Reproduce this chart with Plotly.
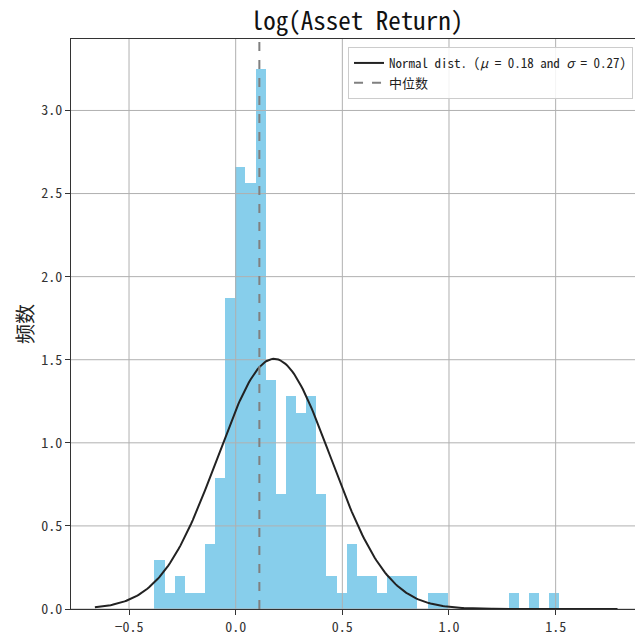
import numpy as np
import plotly.graph_objects as go

# ---- data ----
bin_start = -0.381
bin_width = 0.04743
counts = [3, 1, 2, 1, 1, 4, 8, 19, 27, 26,
          33, 14, 7, 13, 12, 13, 7, 2, 1, 4,
          2, 2, 1, 2, 2, 2, 0, 1, 1, 0,
          0, 0, 0, 0, 0, 1, 0, 1, 0, 1]
mu = 0.18
sigma = 0.265
sigma_label = 0.27
curve_x_min = -0.66
curve_x_max = 1.79
median_value = 0.111
x_ticks = [-0.5, 0.0, 0.5, 1.0, 1.5]
y_ticks = [0.0, 0.5, 1.0, 1.5, 2.0, 2.5, 3.0]
x_range = [-0.772, 1.872]
y_range = [0.0, 3.43]

counts_arr = np.array(counts, dtype=float)
density = counts_arr / (counts_arr.sum() * bin_width)
centers = bin_start + bin_width * (np.arange(len(counts)) + 0.5)

cx = np.linspace(curve_x_min, curve_x_max, 300)
cy = np.exp(-0.5 * ((cx - mu) / sigma) ** 2) / (sigma * np.sqrt(2 * np.pi))

FONT = "Noto Sans Mono CJK SC, Noto Sans CJK SC, DejaVu Sans Mono, monospace"
GRID = "#b0b0b0"

fig = go.Figure()
fig.add_trace(go.Bar(x=centers, y=density, width=bin_width,
                     marker=dict(color="#87CEEB", line=dict(width=0)),
                     showlegend=False, hoverinfo="skip"))

# grid lines (above bars, below lines)
gx, gy = [], []
for t in x_ticks:
    gx += [t, t, None]
    gy += [y_range[0], y_range[1], None]
for t in y_ticks:
    gx += [x_range[0], x_range[1], None]
    gy += [t, t, None]
fig.add_trace(go.Scatter(x=gx, y=gy, mode="lines",
                         line=dict(color=GRID, width=1),
                         showlegend=False, hoverinfo="skip"))

fig.add_trace(go.Scatter(
    x=cx, y=cy, mode="lines", line=dict(color="#222222", width=2),
    name=f"Normal dist. (<i>μ</i> = {mu:.2f} and <i>σ</i> = {sigma_label:.2f})"))
fig.add_trace(go.Scatter(
    x=[median_value, median_value], y=[y_range[0], y_range[1]], mode="lines",
    line=dict(color="#808080", width=2, dash="dash"), name="中位数"))

fig.update_layout(
    width=635, height=635,
    margin=dict(l=71, r=0, t=39, b=26),
    paper_bgcolor="white", plot_bgcolor="white",
    font=dict(family=FONT, size=14, color="#333333"),
    title=dict(text="log(Asset Return)", x=0.5622, xanchor="center",
               y=0.967, yanchor="middle",
               font=dict(family=FONT, size=25, color="#111111")),
    bargap=0,
    hovermode=False,
    legend=dict(x=0.9965, xanchor="right", y=0.986, yanchor="top",
                bgcolor="rgba(255,255,255,0.85)", bordercolor="#cccccc",
                borderwidth=1, font=dict(family=FONT, size=13, color="#222222"),
                tracegroupgap=0),
)
fig.update_xaxes(range=x_range, tickvals=x_ticks,
                 ticktext=[f"{v:.1f}".replace("-", "−") for v in x_ticks],
                 showgrid=False, zeroline=False,
                 showline=True, linecolor="#333333", linewidth=1, mirror=True,
                 ticks="outside", ticklen=5, tickcolor="#333333")
fig.update_yaxes(range=y_range, tickvals=y_ticks,
                 ticktext=[f"{v:.1f}" for v in y_ticks],
                 showgrid=False, zeroline=False,
                 showline=True, linecolor="#333333", linewidth=1, mirror=False,
                 ticks="outside", ticklen=5, tickcolor="#333333",
                 title=dict(text="频数", font=dict(family=FONT, size=20, color="#222222"),
                            standoff=2))

fig.write_html("out.html", config={"displayModeBar": False},
               post_script="document.body.style.margin='0';")
